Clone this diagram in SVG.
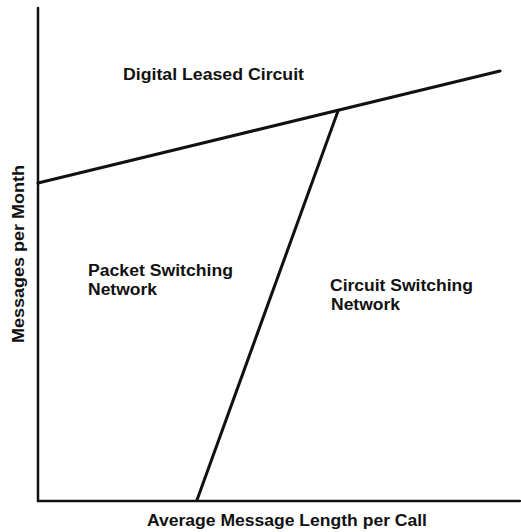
<svg xmlns="http://www.w3.org/2000/svg" width="521" height="532" viewBox="0 0 521 532">
<style>
.t{font-family:"Liberation Sans",Arial,sans-serif;font-weight:bold;font-size:16px;fill:#111}
.ax{stroke:#111;stroke-width:2.5;fill:none;stroke-linecap:round}
.ln{stroke:#111;stroke-width:3;fill:none;stroke-linecap:round}
</style>
<rect width="521" height="532" fill="#fff"/>
<g id="axes">
<path class="ax" d="M38,8 L38,501 L520,501"/>
</g>
<g id="connectors">
<line class="ln" x1="38" y1="183" x2="500" y2="71"/>
<line class="ln" x1="338" y1="111" x2="197" y2="500"/>
</g>
<g id="digital-leased"><text class="t" x="123" y="80" textLength="181" lengthAdjust="spacingAndGlyphs">Digital Leased Circuit</text></g>
<g id="packet"><text class="t" x="88" y="276" textLength="145" lengthAdjust="spacingAndGlyphs">Packet Switching</text><text class="t" x="88" y="295" textLength="69" lengthAdjust="spacingAndGlyphs">Network</text></g>
<g id="circuit"><text class="t" x="330" y="291" textLength="143" lengthAdjust="spacingAndGlyphs">Circuit Switching</text><text class="t" x="331" y="310" textLength="69" lengthAdjust="spacingAndGlyphs">Network</text></g>
<g id="x-label"><text class="t" x="147" y="526" textLength="280" lengthAdjust="spacingAndGlyphs">Average Message Length per Call</text></g>
<g id="y-label"><text class="t" transform="translate(24,343) rotate(-90)" x="0" y="0" textLength="178" lengthAdjust="spacingAndGlyphs">Messages per Month</text></g>
</svg>
